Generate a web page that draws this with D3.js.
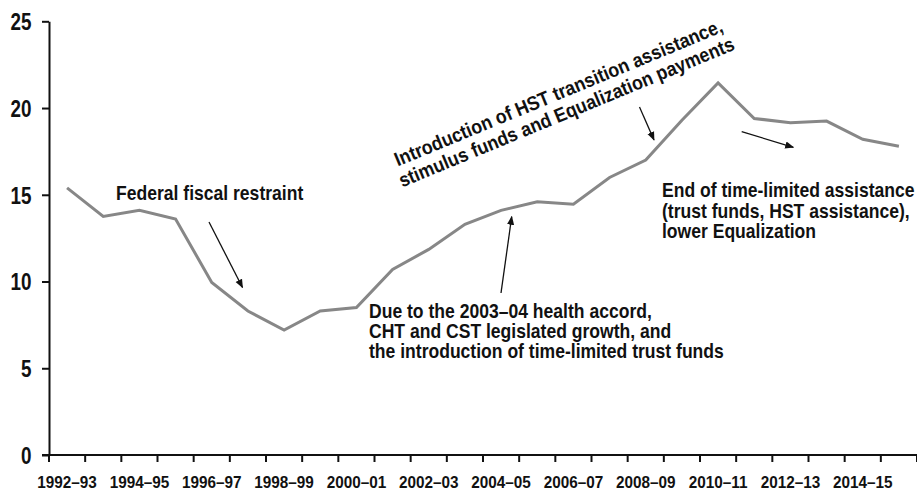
<!DOCTYPE html>
<html>
<head>
<meta charset="utf-8">
<script src="https://cdn.jsdelivr.net/npm/d3@7"></script>
<style>
  html, body { margin: 0; padding: 0; background: #fff; }
  svg text { font-family: "Liberation Sans", Arial, Helvetica, sans-serif; font-weight: bold; fill: #111; }
</style>
</head>
<body>
<svg id="chart" width="917" height="493"></svg>
<script>
// Fiscal years on the horizontal axis
const categories = [
  "1992–93", "1993–94", "1994–95", "1995–96", "1996–97", "1997–98",
  "1998–99", "1999–00", "2000–01", "2001–02", "2002–03", "2003–04",
  "2004–05", "2005–06", "2006–07", "2007–08", "2008–09", "2009–10",
  "2010–11", "2011–12", "2012–13", "2013–14", "2014–15", "2015–16"
];
// Series values, one per fiscal year
const values = [
  15.4, 13.75, 14.1, 13.6, 9.95, 8.3,
  7.2, 8.3, 8.5, 10.7, 11.85, 13.3,
  14.1, 14.6, 14.45, 16.0, 17.0, 19.3,
  21.45, 19.4, 19.15, 19.25, 18.2, 17.8
];
// Year labels printed under the axis (every second year)
const xTickLabels = [
  "1992–93", "1994–95", "1996–97", "1998–99", "2000–01", "2002–03",
  "2004–05", "2006–07", "2008–09", "2010–11", "2012–13", "2014–15"
];
const yTickValues = [0, 5, 10, 15, 20, 25];

// Annotation text
const noteRestraint = ["Federal fiscal restraint"];
const noteAccord = [
  "Due to the 2003–04 health accord,",
  "CHT and CST legislated growth, and",
  "the introduction of time-limited trust funds"
];
const noteHST = [
  "Introduction of HST transition assistance,",
  "stimulus funds and Equalization payments"
];
const noteEnd = [
  "End of time-limited assistance",
  "(trust funds, HST assistance),",
  "lower Equalization"
];

const svg = d3.select("#chart");
const plot = { left: 49, right: 917, top: 21.3, bottom: 455 };
// Horizontal squeeze that gives the bold sans a condensed look
const narrow = 0.9;

const x = d3.scaleBand().domain(categories).range([plot.left, plot.right]).padding(0);
const y = d3.scaleLinear().domain([0, 25]).range([plot.bottom, plot.top]);

// Arrowhead marker
svg.append("defs").append("marker")
  .attr("id", "arrow")
  .attr("viewBox", "0 0 10 10")
  .attr("refX", 9).attr("refY", 5)
  .attr("markerWidth", 9).attr("markerHeight", 9)
  .attr("markerUnits", "userSpaceOnUse")
  .attr("orient", "auto")
  .append("path")
  .attr("d", "M0,1 L10,5 L0,9 Z")
  .attr("fill", "#111");

// Y axis
const yLabelOffset = 17.5;
const ySquash = 0.82;
const yAxis = svg.append("g")
  .attr("transform", `translate(${plot.left},0)`)
  .call(d3.axisLeft(y).tickValues(yTickValues).tickSize(7).tickSizeOuter(0));
yAxis.select(".domain").attr("stroke", "#111").attr("stroke-width", 2);
yAxis.selectAll(".tick line").attr("stroke", "#111").attr("stroke-width", 2);
yAxis.selectAll(".tick text")
  .style("font-size", "23px")
  .attr("x", 0)
  .attr("dy", "0.36em")
  .attr("transform", `translate(${-yLabelOffset},0) scale(${ySquash},1)`);

// X axis: labels centred in each year band, tick marks on band edges
const xAxis = svg.append("g")
  .attr("transform", `translate(0,${plot.bottom})`)
  .call(d3.axisBottom(x)
    .tickValues(xTickLabels)
    .tickSize(0).tickPadding(21).tickSizeOuter(0));
xAxis.select(".domain").remove();
xAxis.selectAll(".tick text")
  .style("font-size", "17px")
  .attr("transform", `scale(${narrow},1)`);

const edges = categories.map(c => x(c)).concat([x.range()[1]]);
svg.append("g")
  .selectAll("line")
  .data(edges)
  .join("line")
  .attr("x1", d => d).attr("x2", d => d)
  .attr("y1", plot.bottom).attr("y2", plot.bottom + 7)
  .attr("stroke", "#111").attr("stroke-width", 2);

svg.append("line")
  .attr("x1", plot.left - 7).attr("x2", plot.right)
  .attr("y1", plot.bottom).attr("y2", plot.bottom)
  .attr("stroke", "#111").attr("stroke-width", 2);

// Data line
const line = d3.line()
  .x((d, i) => x(categories[i]) + x.bandwidth() / 2)
  .y(d => y(d));

svg.append("path")
  .datum(values)
  .attr("d", line)
  .attr("fill", "none")
  .attr("stroke", "#878787")
  .attr("stroke-width", 3)
  .attr("stroke-linejoin", "miter");

// Annotations
function textBlock(lines, tx, ty, size, lineH, anchor, rotate) {
  const g = svg.append("g")
    .attr("transform", `translate(${tx},${ty})` + (rotate ? ` rotate(${rotate})` : ""));
  g.selectAll("text")
    .data(lines)
    .join("text")
    .attr("x", 0)
    .attr("y", 0)
    .attr("transform", (d, i) => `translate(0,${i * lineH}) scale(${narrow},1)`)
    .attr("text-anchor", anchor)
    .style("font-size", size + "px")
    .text(d => d);
  return g;
}

textBlock(noteRestraint, 116, 200, 19.5, 20, "start");
textBlock(noteAccord, 369, 318, 19.5, 20, "start");
textBlock(noteEnd, 662, 197, 19.5, 20.5, "start");
textBlock(noteHST, 561, 99, 19.8, 21, "middle", -22.5);

// Arrows
const arrows = [
  [209, 222, 242.5, 287.5],
  [501, 293, 511.7, 216.7],
  [639.5, 107, 654, 140],
  [741.7, 131.7, 793.3, 147.3]
];
svg.append("g")
  .selectAll("line")
  .data(arrows)
  .join("line")
  .attr("x1", d => d[0]).attr("y1", d => d[1])
  .attr("x2", d => d[2]).attr("y2", d => d[3])
  .attr("stroke", "#111")
  .attr("stroke-width", 1.3)
  .attr("marker-end", "url(#arrow)");
</script>
</body>
</html>
